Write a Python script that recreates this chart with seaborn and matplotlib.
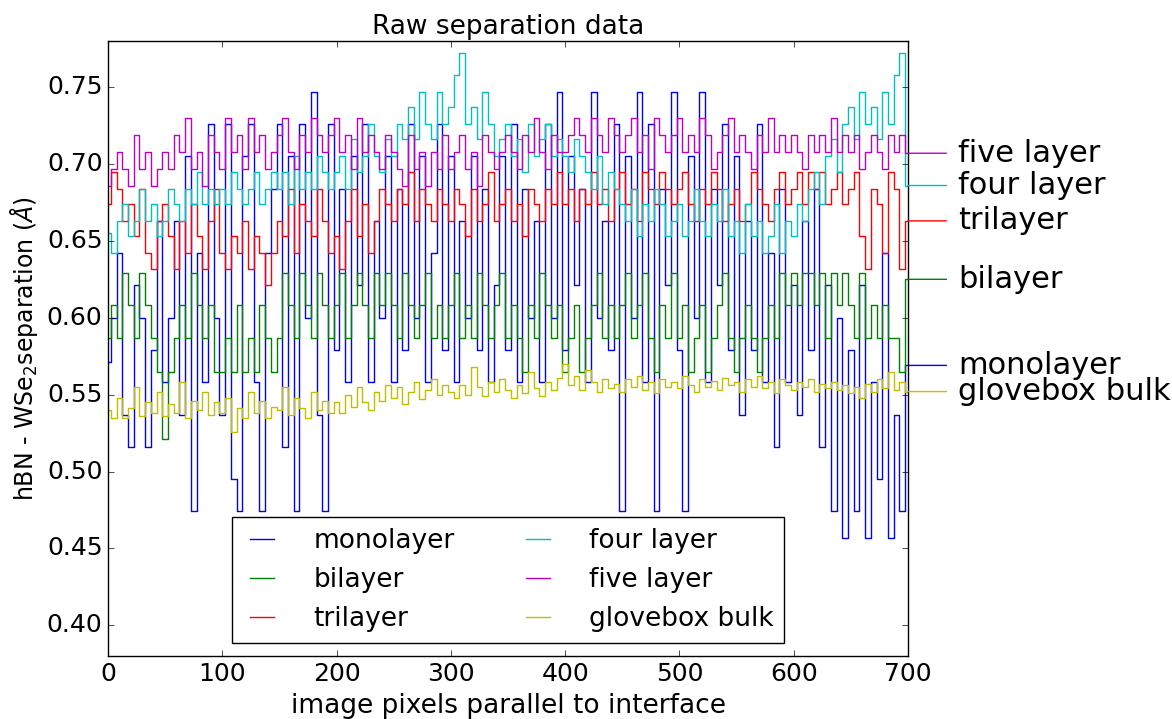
import matplotlib
matplotlib.use("Agg")
import matplotlib.pyplot as plt
import seaborn as sns
import pandas as pd
import numpy as np

# x positions (image pixels along the interface), sampled every 5 px
pixels = list(range(0, 701, 5))

monolayer = [
    0.571, 0.600, 0.642, 0.537, 0.516, 0.621, 0.600, 0.516, 0.579, 0.663,
    0.558, 0.600, 0.663, 0.537, 0.705, 0.474, 0.642, 0.558, 0.726, 0.600,
    0.537, 0.726, 0.495, 0.474, 0.705, 0.726, 0.558, 0.474, 0.642, 0.684,
    0.726, 0.516, 0.705, 0.474, 0.726, 0.600, 0.747, 0.537, 0.474, 0.726,
    0.579, 0.684, 0.558, 0.705, 0.621, 0.726, 0.558, 0.663, 0.600, 0.705,
    0.558, 0.684, 0.579, 0.726, 0.600, 0.705, 0.558, 0.642, 0.726, 0.579,
    0.705, 0.558, 0.663, 0.600, 0.705, 0.579, 0.684, 0.558, 0.621, 0.705,
    0.579, 0.726, 0.558, 0.684, 0.600, 0.663, 0.558, 0.726, 0.600, 0.747,
    0.579, 0.705, 0.621, 0.684, 0.558, 0.747, 0.600, 0.663, 0.579, 0.726,
    0.474, 0.705, 0.600, 0.747, 0.558, 0.726, 0.474, 0.684, 0.621, 0.747,
    0.579, 0.474, 0.705, 0.600, 0.747, 0.558, 0.684, 0.621, 0.726, 0.579,
    0.705, 0.537, 0.663, 0.579, 0.726, 0.558, 0.642, 0.516, 0.684, 0.558,
    0.621, 0.537, 0.663, 0.579, 0.684, 0.516, 0.621, 0.474, 0.600, 0.457,
    0.579, 0.474, 0.621, 0.457, 0.558, 0.495, 0.642, 0.457, 0.537, 0.474,
    0.569,
]

bilayer = [
    0.587, 0.608, 0.587, 0.629, 0.608, 0.587, 0.629, 0.608, 0.587, 0.565,
    0.521, 0.565, 0.587, 0.608, 0.587, 0.629, 0.608, 0.587, 0.608, 0.565,
    0.565, 0.587, 0.565, 0.608, 0.565, 0.587, 0.565, 0.608, 0.587, 0.565,
    0.587, 0.629, 0.608, 0.587, 0.629, 0.608, 0.587, 0.629, 0.608, 0.587,
    0.608, 0.629, 0.587, 0.608, 0.629, 0.608, 0.587, 0.629, 0.608, 0.629,
    0.608, 0.587, 0.629, 0.608, 0.587, 0.608, 0.629, 0.587, 0.608, 0.587,
    0.608, 0.629, 0.587, 0.608, 0.587, 0.629, 0.608, 0.587, 0.608, 0.629,
    0.587, 0.608, 0.587, 0.565, 0.608, 0.587, 0.629, 0.608, 0.587, 0.608,
    0.565, 0.587, 0.608, 0.565, 0.587, 0.608, 0.629, 0.587, 0.608, 0.587,
    0.608, 0.629, 0.587, 0.608, 0.629, 0.587, 0.565, 0.608, 0.587, 0.629,
    0.587, 0.608, 0.565, 0.587, 0.608, 0.565, 0.587, 0.608, 0.629, 0.587,
    0.565, 0.587, 0.608, 0.587, 0.565, 0.587, 0.608, 0.587, 0.629, 0.608,
    0.629, 0.608, 0.629, 0.629, 0.608, 0.629, 0.587, 0.629, 0.608, 0.629,
    0.608, 0.587, 0.629, 0.587, 0.608, 0.587, 0.608, 0.587, 0.587, 0.565,
    0.625,
]

trilayer = [
    0.674, 0.695, 0.684, 0.663, 0.674, 0.653, 0.684, 0.642, 0.632, 0.663,
    0.674, 0.653, 0.632, 0.663, 0.642, 0.674, 0.653, 0.632, 0.663, 0.684,
    0.642, 0.632, 0.653, 0.642, 0.663, 0.632, 0.653, 0.642, 0.621, 0.642,
    0.663, 0.653, 0.684, 0.642, 0.674, 0.663, 0.653, 0.684, 0.663, 0.642,
    0.653, 0.632, 0.663, 0.684, 0.653, 0.674, 0.642, 0.663, 0.684, 0.674,
    0.663, 0.684, 0.674, 0.695, 0.663, 0.684, 0.674, 0.663, 0.684, 0.674,
    0.663, 0.684, 0.674, 0.653, 0.684, 0.663, 0.674, 0.695, 0.663, 0.674,
    0.684, 0.663, 0.674, 0.653, 0.684, 0.674, 0.663, 0.684, 0.674, 0.695,
    0.674, 0.684, 0.663, 0.684, 0.674, 0.695, 0.674, 0.684, 0.663, 0.684,
    0.695, 0.674, 0.684, 0.663, 0.695, 0.684, 0.674, 0.695, 0.684, 0.674,
    0.684, 0.695, 0.674, 0.663, 0.684, 0.674, 0.695, 0.684, 0.663, 0.674,
    0.684, 0.663, 0.674, 0.695, 0.684, 0.674, 0.663, 0.684, 0.695, 0.674,
    0.684, 0.695, 0.674, 0.695, 0.684, 0.695, 0.674, 0.684, 0.695, 0.674,
    0.684, 0.695, 0.653, 0.632, 0.684, 0.674, 0.642, 0.695, 0.684, 0.632,
    0.663,
]

four_layer = [
    0.655, 0.642, 0.663, 0.674, 0.653, 0.663, 0.684, 0.663, 0.674, 0.653,
    0.663, 0.684, 0.674, 0.663, 0.684, 0.674, 0.695, 0.674, 0.684, 0.674,
    0.684, 0.674, 0.695, 0.684, 0.674, 0.684, 0.695, 0.674, 0.684, 0.695,
    0.684, 0.695, 0.674, 0.705, 0.684, 0.695, 0.684, 0.705, 0.695, 0.684,
    0.695, 0.705, 0.684, 0.716, 0.695, 0.705, 0.726, 0.705, 0.695, 0.716,
    0.705, 0.726, 0.716, 0.737, 0.716, 0.747, 0.726, 0.716, 0.747, 0.726,
    0.737, 0.758, 0.772, 0.726, 0.737, 0.716, 0.747, 0.726, 0.705, 0.716,
    0.726, 0.705, 0.716, 0.695, 0.726, 0.705, 0.716, 0.726, 0.705, 0.716,
    0.705, 0.695, 0.716, 0.705, 0.695, 0.684, 0.705, 0.674, 0.695, 0.684,
    0.674, 0.663, 0.684, 0.653, 0.674, 0.663, 0.684, 0.674, 0.653, 0.663,
    0.674, 0.653, 0.663, 0.684, 0.663, 0.653, 0.674, 0.663, 0.684, 0.653,
    0.663, 0.642, 0.674, 0.653, 0.663, 0.642, 0.653, 0.674, 0.642, 0.663,
    0.653, 0.674, 0.663, 0.684, 0.695, 0.674, 0.705, 0.716, 0.695, 0.726,
    0.737, 0.716, 0.747, 0.726, 0.737, 0.716, 0.747, 0.726, 0.758, 0.772,
    0.686,
]

five_layer = [
    0.686, 0.697, 0.708, 0.697, 0.686, 0.719, 0.697, 0.708, 0.686, 0.697,
    0.708, 0.697, 0.719, 0.708, 0.730, 0.697, 0.708, 0.686, 0.719, 0.708,
    0.697, 0.730, 0.708, 0.719, 0.697, 0.730, 0.708, 0.719, 0.697, 0.708,
    0.719, 0.730, 0.708, 0.697, 0.719, 0.708, 0.730, 0.719, 0.708, 0.719,
    0.730, 0.708, 0.719, 0.697, 0.730, 0.708, 0.719, 0.708, 0.697, 0.719,
    0.708, 0.697, 0.686, 0.719, 0.697, 0.708, 0.686, 0.708, 0.697, 0.719,
    0.697, 0.708, 0.719, 0.697, 0.708, 0.686, 0.719, 0.708, 0.697, 0.708,
    0.719, 0.708, 0.697, 0.719, 0.708, 0.730, 0.708, 0.697, 0.719, 0.708,
    0.708, 0.719, 0.730, 0.719, 0.708, 0.730, 0.719, 0.708, 0.730, 0.719,
    0.708, 0.719, 0.730, 0.708, 0.719, 0.697, 0.730, 0.719, 0.708, 0.719,
    0.730, 0.708, 0.719, 0.708, 0.730, 0.719, 0.697, 0.708, 0.719, 0.730,
    0.708, 0.719, 0.708, 0.697, 0.719, 0.708, 0.730, 0.708, 0.719, 0.708,
    0.719, 0.708, 0.697, 0.719, 0.708, 0.719, 0.708, 0.730, 0.708, 0.719,
    0.708, 0.719, 0.697, 0.708, 0.719, 0.708, 0.697, 0.719, 0.708, 0.719,
    0.707,
]

glovebox_bulk = [
    0.540, 0.535, 0.548, 0.535, 0.541, 0.555, 0.536, 0.545, 0.538, 0.552,
    0.536, 0.544, 0.538, 0.558, 0.535, 0.546, 0.540, 0.552, 0.537, 0.545,
    0.538, 0.548, 0.526, 0.541, 0.535, 0.552, 0.538, 0.546, 0.535, 0.542,
    0.540, 0.555, 0.537, 0.548, 0.541, 0.535, 0.552, 0.540, 0.546, 0.538,
    0.545, 0.538, 0.550, 0.542, 0.555, 0.545, 0.540, 0.552, 0.546, 0.556,
    0.548, 0.555, 0.544, 0.552, 0.558, 0.547, 0.553, 0.560, 0.550, 0.556,
    0.552, 0.548, 0.556, 0.550, 0.568, 0.555, 0.549, 0.558, 0.552, 0.560,
    0.553, 0.548, 0.556, 0.551, 0.565, 0.554, 0.549, 0.558, 0.553, 0.561,
    0.570, 0.556, 0.562, 0.553, 0.566, 0.558, 0.552, 0.560, 0.554, 0.557,
    0.552, 0.560, 0.555, 0.562, 0.553, 0.558, 0.551, 0.560, 0.555, 0.558,
    0.554, 0.562, 0.556, 0.552, 0.560, 0.555, 0.559, 0.553, 0.561, 0.556,
    0.558, 0.552, 0.560, 0.555, 0.562, 0.554, 0.558, 0.551, 0.560, 0.556,
    0.553, 0.558, 0.555, 0.560, 0.552, 0.557, 0.554, 0.558, 0.553, 0.556,
    0.551, 0.555, 0.548, 0.557, 0.552, 0.560, 0.554, 0.565, 0.553, 0.558,
    0.552,
]

names = ["monolayer", "bilayer", "trilayer", "four layer", "five layer", "glovebox bulk"]
series = [monolayer, bilayer, trilayer, four_layer, five_layer, glovebox_bulk]
# old matplotlib single-letter colours b, g, r, c, m, y
colors = ["#0000ff", "#008000", "#ff0000", "#00bfbf", "#bf00bf", "#bfbf00"]

rows = []
for name, vals in zip(names, series):
    for px, v in zip(pixels, vals):
        rows.append((px, v, name))
df = pd.DataFrame(rows, columns=["pixel", "sep", "layer"])

plt.style.use("classic")
plt.rcParams["figure.facecolor"] = "white"
plt.rcParams["savefig.facecolor"] = "white"
plt.rcParams["font.family"] = ["DejaVu Sans"]
plt.rcParams["mathtext.fontset"] = "dejavusans"

fig = plt.figure(figsize=(11.72, 7.19), dpi=100)
ax = fig.add_axes([0.0922, 0.0876, 0.6826, 0.8554])

# the separations are quantised, so draw them as steps
sns.lineplot(data=df, x="pixel", y="sep", hue="layer", hue_order=names,
             palette=colors, estimator=None, sort=False, linewidth=1,
             drawstyle="steps-mid", ax=ax)

ax.set_xlim(0, 700)
ax.set_ylim(0.38, 0.78)
ax.set_xticks(np.arange(0, 701, 100))
ax.set_yticks(np.arange(0.40, 0.751, 0.05))
ax.yaxis.set_major_formatter(matplotlib.ticker.FormatStrFormatter("%.2f"))
ax.tick_params(labelsize=18, direction="in", top=True, right=True, length=4)

ax.set_title("Raw separation data", fontsize=19)
ax.set_xlabel("image pixels parallel to interface", fontsize=19)
ax.set_ylabel(r"hBN - WSe$_2$separation ($\AA$)", fontsize=17)

sns.move_legend(ax, "lower center", bbox_to_anchor=(0.5, 0.0), ncol=2,
                title=None, fontsize=19, frameon=True, handlelength=1.5,
                handletextpad=1.2, columnspacing=2.4, fancybox=False)

# label each series on the right at its final value
for name, vals, c in zip(names, series, colors):
    ax.annotate(name, xy=(1, vals[-1]), xycoords=("axes fraction", "data"),
                xytext=(36, 0), textcoords="offset points",
                ha="left", va="center", fontsize=22,
                arrowprops=dict(arrowstyle="-", color=c, lw=1,
                                shrinkA=6, shrinkB=0))

fig.savefig("out.png", dpi=100)
